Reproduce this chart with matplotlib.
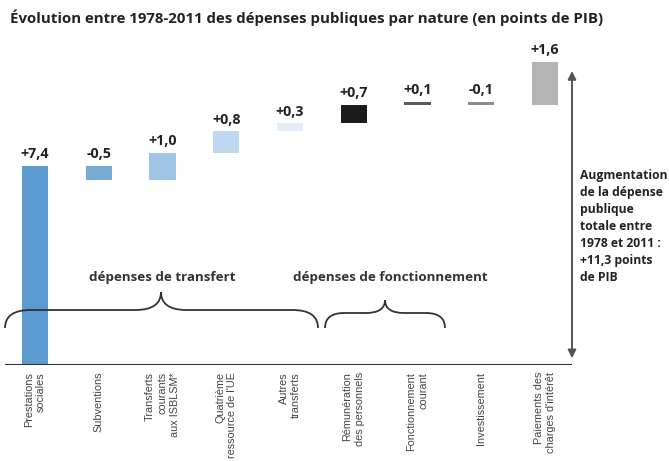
import matplotlib.pyplot as plt
from matplotlib.path import Path
from matplotlib.patches import PathPatch

categories = ["Prestations\nsociales", "Subventions", "Transferts\ncourants\naux ISBLSM*",
              "Quatrième\nressource de l'UE", "Autres\ntransferts", "Rémunération\ndes personnels",
              "Fonctionnement\ncourant", "Investissement", "Paiements des\ncharges d'intérêt"]
values = [7.4, -0.5, 1.0, 0.8, 0.3, 0.7, 0.1, -0.1, 1.6]
value_labels = ["+7,4", "-0,5", "+1,0", "+0,8", "+0,3", "+0,7", "+0,1", "-0,1", "+1,6"]
colors = ["#5b9bd0", "#78aad6", "#a0c4e3", "#bed7ee", "#dfecf7", "#1c1c1c", "#5a5a5a", "#8c8c8c", "#b4b4b4"]
groups = ["dépenses de transfert", "dépenses de fonctionnement"]
total_text = "Augmentation\nde la dépense\npublique\ntotale entre\n1978 et 2011 :\n+11,3 points\nde PIB"
title = "Évolution entre 1978-2011 des dépenses publiques par nature (en points de PIB)"

W, H = 669, 461
fig = plt.figure(figsize=(W / 100, H / 100), dpi=100)
# baseline at pixel 365, 26.85 px per point of GDP
ppu = 26.85
ymax = 13.0
ax = fig.add_axes([0, (H - 365) / H, 1, ymax * ppu / H])
ax.set_xlim(-35 / 63.75, (W - 35) / 63.75)
ax.set_ylim(0, ymax)
for s in ax.spines.values():
    s.set_visible(False)
ax.set_yticks([])

# waterfall
cum = 0
for i, v in enumerate(values):
    start, end = cum, cum + v
    bottom = min(start, end)
    h = abs(v)
    ax.bar(i, h, bottom=bottom, width=0.41, color=colors[i], edgecolor="none")
    top = max(start, end)
    ax.text(i, top + 0.18, value_labels[i], ha="center", va="bottom",
            fontsize=10.3, fontweight="bold", color="#222222", family="Open Sans")
    cum = end
total = cum

ax.set_xticks(range(len(categories)))
ax.set_xticklabels(categories, rotation=90, fontsize=7.8, color="#444444",
                   family="Liberation Sans", linespacing=1.3, multialignment="right")
ax.tick_params(axis="x", length=0, pad=5)

# baseline and total arrow
xa = (572 - 35) / 63.75
ax.plot([-0.47, xa], [0, 0], color="#333333", lw=1.5, solid_capstyle="butt")
ax.annotate("", xy=(xa, total - 0.35), xytext=(xa, 0.25),
            arrowprops=dict(arrowstyle="<|-|>", color="#555555", lw=1.4,
                            mutation_scale=12, shrinkA=0, shrinkB=0))
ax.text(xa + 0.13, 7.3, total_text, ha="left", va="top", fontsize=8.7,
        fontweight="bold", color="#222222", family="Open Sans", linespacing=1.4)


def brace(x0, x1, xc, yb, ym, yt, r):
    verts = [(x0, yb), (x0, ym), (x0 + r, ym), (xc - r, ym), (xc, ym), (xc, yt),
             (xc, ym), (xc + r, ym), (x1 - r, ym), (x1, ym), (x1, yb)]
    codes = [Path.MOVETO, Path.CURVE3, Path.CURVE3, Path.LINETO, Path.CURVE3, Path.CURVE3,
             Path.CURVE3, Path.CURVE3, Path.LINETO, Path.CURVE3, Path.CURVE3]
    ax.add_patch(PathPatch(Path(verts, codes), fill=False, edgecolor="#333333", lw=1.3))


def px2x(p):
    return (p - 35) / 63.75


def py2y(p):
    return (365 - p) / ppu


brace(px2x(5), px2x(318), px2x(161), py2y(328), py2y(310), py2y(292), 0.4)
brace(px2x(325), px2x(445), px2x(385), py2y(328), py2y(313), py2y(300), 0.3)
ax.text(px2x(162), py2y(278), groups[0], ha="center", va="center", fontsize=9.6,
        fontweight="bold", color="#333333", family="Open Sans")
ax.text(px2x(390), py2y(278), groups[1], ha="center", va="center", fontsize=9.6,
        fontweight="bold", color="#333333", family="Open Sans")

fig.text(10 / W, 1 - 18 / H, title, ha="left", va="center", fontsize=10.8,
         fontweight="bold", color="#222222", family="Open Sans")

fig.savefig("out.png", dpi=100, facecolor="white")
